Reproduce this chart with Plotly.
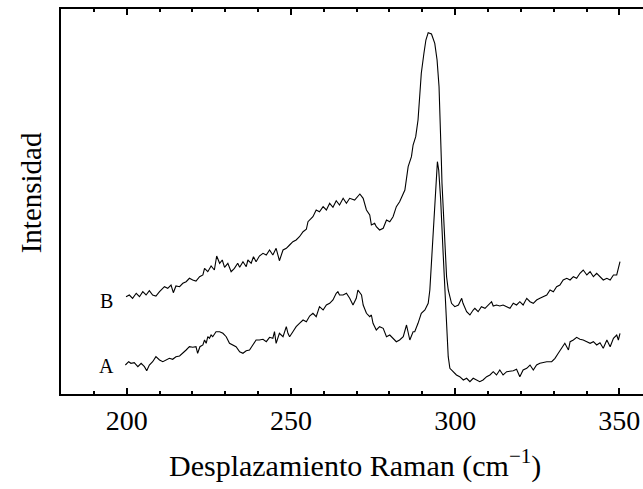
import plotly.graph_objects as go

# Raman shift (cm^-1) and intensity (arbitrary units)
shift_B = [199.8, 200.8, 201.8, 202.9, 203.9, 204.9, 205.9, 206.9, 207.9, 208.9, 210.0, 211.5, 212.5, 213.5,
           214.2, 215.0, 216.1, 217.1, 218.1, 219.1, 220.1, 221.1, 222.2, 223.2, 223.7, 224.7, 225.7, 226.7,
           227.4, 228.3, 229.1, 229.8, 230.8, 231.8, 232.8, 233.8, 234.4, 235.4, 236.4, 236.9, 237.9, 238.6,
           239.4, 240.4, 241.5, 242.5, 243.5, 244.5, 245.5, 246.5, 247.6, 248.6, 249.6, 250.6, 251.6, 252.6,
           253.7, 254.7, 255.2, 256.7, 257.7, 258.7, 259.8, 260.8, 261.8, 262.8, 263.8, 264.8, 265.9, 266.9,
           267.9, 269.4, 271.0, 272.0, 273.0, 274.0, 274.5, 275.5, 276.0, 277.0, 278.1, 279.1, 280.1, 281.1,
           282.1, 283.1, 284.7, 285.7, 286.7, 287.2, 288.0, 288.7, 289.2, 289.7, 290.5, 291.1, 291.8, 292.8,
           293.8, 294.5, 295.1, 295.5, 295.8, 296.0, 296.7, 297.4, 297.9, 298.9, 299.9, 301.0, 302.0, 302.4,
           303.5, 304.5, 305.5, 306.0, 307.0, 308.0, 309.1, 310.1, 311.1, 311.6, 312.6, 313.6, 314.6, 315.7,
           316.7, 317.7, 318.7, 319.7, 320.7, 321.8, 322.8, 323.8, 324.8, 325.8, 326.8, 327.9, 328.9, 329.9,
           330.9, 331.9, 332.9, 334.0, 335.0, 336.0, 337.0, 338.0, 339.0, 340.1, 341.1, 342.1, 343.1, 344.1,
           345.1, 346.2, 347.2, 348.2, 349.2, 350.2]
intensity_B = [97.3, 99.0, 95.7, 100.7, 97.3, 102.3, 99.0, 103.3, 99.0, 98.0, 102.3, 107.3, 105.7, 109.0,
               101.3, 108.0, 107.3, 110.7, 112.3, 115.7, 114.0, 113.0, 117.3, 119.0, 125.7, 122.3, 128.0, 124.0,
               138.0, 130.7, 134.0, 126.7, 130.7, 122.3, 125.7, 130.7, 126.7, 132.3, 127.3, 134.0, 130.7, 137.3,
               132.3, 138.0, 140.7, 139.0, 144.0, 139.0, 145.7, 133.3, 144.0, 145.7, 149.0, 152.3, 154.0, 157.3,
               162.3, 164.7, 172.3, 177.3, 184.0, 182.3, 187.3, 184.0, 190.7, 186.7, 193.3, 189.0, 195.7, 190.7,
               195.7, 194.0, 200.0, 195.7, 184.0, 179.0, 169.0, 170.7, 167.3, 164.0, 165.7, 174.0, 172.3, 177.3,
               187.3, 192.3, 204.0, 227.3, 237.3, 249.0, 257.3, 274.0, 297.3, 320.7, 340.7, 354.0, 361.3, 360.0,
               350.7, 334.0, 307.3, 274.0, 234.0, 210.7, 160.7, 117.3, 104.0, 90.7, 87.3, 89.0, 95.7, 90.7,
               82.3, 79.0, 84.0, 85.7, 82.3, 87.3, 85.7, 89.0, 92.3, 88.0, 89.0, 88.0, 89.0, 87.3,
               85.7, 90.7, 89.0, 92.3, 89.0, 95.7, 92.3, 90.7, 94.0, 95.7, 97.3, 99.0, 104.0, 102.3,
               107.3, 109.0, 114.0, 115.7, 114.0, 117.3, 115.7, 120.7, 124.0, 119.0, 122.3, 117.3, 120.7, 117.3,
               114.0, 115.7, 114.0, 119.0, 119.0, 132.3]

shift_A = [199.6, 200.6, 201.3, 202.3, 203.4, 204.4, 205.4, 206.1, 206.9, 207.9, 208.9, 210.0, 211.0, 212.0,
           213.0, 214.0, 215.0, 216.1, 217.1, 218.1, 219.1, 220.1, 221.1, 221.6, 222.3, 223.2, 223.7, 224.2,
           224.7, 225.2, 225.7, 226.2, 227.2, 228.3, 229.3, 230.3, 231.3, 232.3, 233.3, 234.4, 235.4, 236.4,
           237.4, 238.4, 239.4, 240.4, 241.5, 242.5, 243.5, 244.5, 245.0, 245.5, 246.5, 247.6, 248.6, 249.1,
           249.6, 250.6, 251.6, 252.6, 253.7, 254.7, 255.7, 256.7, 257.7, 258.7, 259.8, 260.8, 261.8, 262.8,
           263.8, 264.3, 264.8, 265.9, 266.9, 267.9, 268.9, 269.9, 270.4, 271.5, 272.0, 273.0, 274.0, 274.5,
           275.0, 276.0, 277.0, 278.1, 279.1, 280.1, 281.1, 282.1, 283.1, 284.2, 285.2, 285.7, 286.2, 287.2,
           287.7, 288.7, 289.7, 290.8, 291.8, 292.3, 292.8, 293.3, 293.8, 294.3, 294.6, 295.0, 295.6, 296.3,
           296.9, 297.4, 297.9, 298.4, 299.4, 300.4, 301.4, 302.5, 303.5, 304.5, 305.5, 306.5, 307.5, 308.5,
           309.6, 310.6, 311.6, 312.6, 313.6, 314.6, 315.7, 317.7, 318.7, 319.7, 320.7, 321.8, 322.8, 323.8,
           324.8, 325.8, 327.9, 329.4, 330.4, 331.4, 332.4, 333.4, 334.5, 335.0, 336.0, 337.0, 338.0, 339.0,
           340.1, 341.1, 342.1, 343.1, 344.1, 345.1, 346.2, 347.2, 348.2, 349.2, 349.7, 350.2]
intensity_A = [29.0, 32.3, 30.7, 31.3, 27.3, 30.7, 27.3, 23.3, 29.0, 32.3, 37.3, 34.0, 32.3, 34.0,
               35.7, 34.7, 37.3, 38.0, 40.7, 44.0, 47.3, 46.7, 47.3, 40.7, 47.3, 49.0, 54.0, 50.7,
               57.3, 55.7, 59.0, 57.3, 62.3, 62.3, 60.7, 57.3, 50.7, 49.0, 47.3, 42.3, 40.7, 43.3,
               44.0, 49.0, 54.0, 54.0, 54.7, 52.3, 56.7, 55.7, 62.3, 50.7, 60.7, 57.3, 67.3, 60.7,
               57.3, 62.3, 67.3, 70.7, 74.0, 72.3, 78.0, 80.7, 77.3, 87.3, 84.0, 89.0, 90.7, 94.0,
               100.7, 102.3, 99.0, 99.0, 100.7, 95.7, 89.0, 95.7, 104.0, 99.0, 89.0, 80.7, 77.3, 79.0,
               70.7, 64.0, 67.3, 65.7, 57.3, 59.0, 55.7, 52.3, 54.0, 57.3, 69.0, 60.7, 54.0, 62.3,
               62.3, 70.7, 80.7, 84.0, 90.7, 104.0, 134.0, 167.3, 197.3, 224.0, 232.3, 224.0, 194.0, 144.0,
               104.0, 60.7, 37.3, 25.7, 22.3, 19.0, 17.3, 14.0, 15.7, 12.3, 15.7, 14.0, 12.3, 14.0,
               17.3, 19.0, 22.3, 19.0, 24.0, 19.0, 22.3, 23.3, 24.7, 17.3, 24.0, 25.7, 29.0, 24.0,
               29.0, 30.7, 32.3, 32.3, 35.7, 40.7, 45.7, 50.7, 44.0, 52.3, 54.0, 56.7, 54.7, 54.0,
               52.3, 50.7, 52.3, 49.0, 51.3, 45.7, 54.0, 47.3, 55.7, 59.0, 54.0, 60.7]

trace_labels = ["B", "A"]
label_positions_x = [193.8, 193.8]
label_positions_y = [93, 28]

x_tickvals = [200, 250, 300, 350]
x_ticktext = ["200", "250", "300", "350"]

FONT = "Liberation Serif"

fig = go.Figure()
fig.add_trace(go.Scatter(x=shift_B, y=intensity_B, mode="lines", line=dict(color="black", width=1.1), name="B"))
fig.add_trace(go.Scatter(x=shift_A, y=intensity_A, mode="lines", line=dict(color="black", width=1.1), name="A"))

for lab, lx, ly in zip(trace_labels, label_positions_x, label_positions_y):
    fig.add_annotation(x=lx, y=ly, xref="x", yref="y", text=lab, showarrow=False,
                       font=dict(family=FONT, size=20, color="black"))

fig.add_annotation(x=0.505, y=-0.18, xref="paper", yref="paper", text="Desplazamiento Raman (cm<sup>−1</sup>)",
                   showarrow=False, yanchor="middle", font=dict(family=FONT, size=30, color="black"))
fig.add_annotation(x=-0.082, y=0.522, xref="paper", yref="paper", text="Intensidad", textangle=-90,
                   showarrow=False, font=dict(family=FONT, size=29, color="black"))

fig.update_layout(
    width=643, height=489,
    margin=dict(l=61, r=0, t=9, b=95),
    paper_bgcolor="white", plot_bgcolor="white",
    showlegend=False,
    font=dict(family=FONT, color="black"),
    xaxis=dict(range=[180, 357.2], tickvals=x_tickvals, ticktext=x_ticktext,
               ticks="inside", ticklen=6, tickwidth=1.5, tickcolor="black",
               minor=dict(dtick=10, tick0=180, ticks="inside", ticklen=3, tickwidth=1.5, tickcolor="black"),
               showline=True, linewidth=2, linecolor="black", mirror="ticks",
               showgrid=False, zeroline=False,
               tickfont=dict(family=FONT, size=28, color="black")),
    yaxis=dict(range=[0, 385], showticklabels=False, ticks="", showline=True, linewidth=2,
               linecolor="black", mirror=False, showgrid=False, zeroline=False),
)

fig.write_html("out.html", config={"displayModeBar": False},
               post_script="document.body.style.margin='0px';")
